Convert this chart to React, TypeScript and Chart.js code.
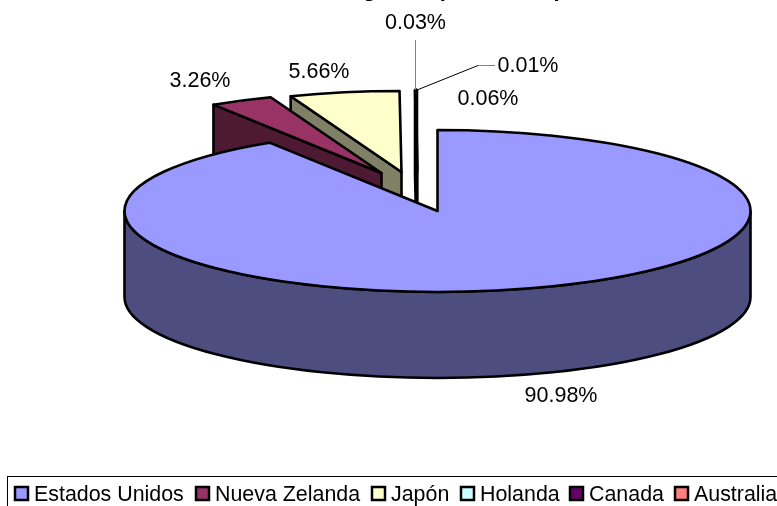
import React, { useEffect, useRef } from "react";
import { Chart, registerables } from "chart.js";

Chart.register(...registerables);

const TITLE = "Origen de productos por";
const categories = ["Estados Unidos", "Nueva Zelanda", "Japón", "Holanda", "Canada", "Australia"];
const shares = [90.98, 3.26, 5.66, 0.06, 0.01, 0.03];
const shareLabels = ["90.98%", "3.26%", "5.66%", "0.06%", "0.01%", "0.03%"];

const topColors = ["#9999FF", "#993366", "#FFFFCC", "#CCFFFF", "#660066", "#FF8080"];
const wallColors = ["#4D4D80", "#4D1933", "#808066", "#668080", "#330033", "#804040"];
const sliceShift = [[0, 0], [-56, -38], [-36, -39], [-20.5, -40], [-20.5, -40], [-20.5, -40]];
const labelPos = [[561, 396], [200, 81], [319, 72], [488, 99], [528, 66], [415.5, 23]];
const legendX = [15, 196, 372, 461, 570, 675];

const CX = 437.5, CY = 211, RX = 313, RY = 81, DEPTH = 86;
const FONT = '21.5px "Liberation Sans", Arial, sans-serif';
const LEGEND_FONT = '21.4px "Liberation Sans", Arial, sans-serif';

const pie3d = {
  id: "pie3d",
  beforeDatasetsDraw(chart: any) {
    const ctx = chart.ctx as CanvasRenderingContext2D;
    const arcs = chart.getDatasetMeta(0).data;
    ctx.save();
    ctx.lineWidth = 2.6;
    ctx.lineJoin = "round";
    ctx.strokeStyle = "#000";
    for (let i = arcs.length - 1; i >= 0; i--) {
      const { startAngle: a0, endAngle: a1 } = arcs[i].getProps(["startAngle", "endAngle"], true);
      const cx = CX + sliceShift[i][0];
      const cy = CY + sliceShift[i][1];
      const px = (a: number) => cx + RX * Math.cos(a);
      const py = (a: number) => cy + RY * Math.sin(a);
      ctx.fillStyle = wallColors[i];
      const face = (a: number) => {
        ctx.beginPath();
        ctx.moveTo(cx, cy);
        ctx.lineTo(px(a), py(a));
        ctx.lineTo(px(a), py(a) + DEPTH);
        ctx.lineTo(cx, cy + DEPTH);
        ctx.closePath();
        ctx.fill();
        ctx.stroke();
      };
      if (Math.cos(a0) < 0) face(a0);
      if (Math.cos(a1) > 0) face(a1);
      // outer wall: only the part of the rim that faces the viewer
      for (const k of [0, 1]) {
        const lo = Math.max(a0, k * 2 * Math.PI);
        const hi = Math.min(a1, k * 2 * Math.PI + Math.PI);
        if (hi > lo) {
          ctx.beginPath();
          ctx.ellipse(cx, cy, RX, RY, 0, lo, hi);
          ctx.ellipse(cx, cy + DEPTH, RX, RY, 0, hi, lo, true);
          ctx.closePath();
          ctx.fill();
          ctx.stroke();
        }
      }
      ctx.fillStyle = topColors[i];
      ctx.beginPath();
      ctx.moveTo(cx, cy);
      ctx.ellipse(cx, cy, RX, RY, 0, a0, a1);
      ctx.closePath();
      ctx.fill();
      ctx.stroke();
    }
    ctx.restore();
  },
  beforeDatasetDraw() {
    return false;
  },
  afterDraw(chart: any) {
    const ctx = chart.ctx as CanvasRenderingContext2D;
    ctx.save();
    // leader lines
    ctx.lineWidth = 1;
    ctx.strokeStyle = "#808080";
    ctx.beginPath();
    ctx.moveTo(415.5, 40);
    ctx.lineTo(415.5, 90);
    ctx.stroke();
    ctx.strokeStyle = "#000";
    ctx.beginPath();
    ctx.moveTo(417, 90);
    ctx.lineTo(478, 65.5);
    ctx.stroke();
    ctx.strokeStyle = "#808080";
    ctx.beginPath();
    ctx.moveTo(478, 65.5);
    ctx.lineTo(495, 65.5);
    ctx.stroke();
    // data labels
    ctx.fillStyle = "#000";
    ctx.font = FONT;
    ctx.textAlign = "center";
    ctx.textBaseline = "middle";
    shareLabels.forEach((t, i) => ctx.fillText(t, labelPos[i][0], labelPos[i][1]));
    // legend
    ctx.strokeStyle = "#000";
    ctx.lineWidth = 1;
    ctx.strokeRect(7.5, 476.5, 790, 40);
    ctx.textAlign = "left";
    ctx.textBaseline = "alphabetic";
    ctx.font = LEGEND_FONT;
    const labels: string[] = chart.data.labels;
    labels.forEach((t, i) => {
      const x = legendX[i];
      ctx.fillStyle = topColors[i];
      ctx.lineWidth = 2.5;
      ctx.fillRect(x, 487, 13, 13);
      ctx.strokeRect(x, 487, 13, 13);
      ctx.fillStyle = "#000";
      ctx.fillText(t, x + 19, 501);
    });
    ctx.restore();
  },
};

export default function App() {
  const ref = useRef<HTMLCanvasElement>(null);
  useEffect(() => {
    const chart = new Chart(ref.current!, {
      type: "pie",
      data: {
        labels: categories,
        datasets: [{ data: shares, backgroundColor: topColors, borderColor: "#000", borderWidth: 2 }],
      },
      options: {
        responsive: false,
        animation: false,
        layout: { padding: { left: 143 } },
        plugins: {
          legend: { display: false },
          tooltip: { enabled: false },
          title: {
            display: true,
            text: TITLE,
            color: "#000",
            font: { family: '"Liberation Sans", Arial, sans-serif', size: 22, weight: "bold" },
            padding: { top: -23, bottom: 0 },
          },
        },
      },
      plugins: [pie3d],
    } as any);
    return () => chart.destroy();
  }, []);
  return (
    <div style={{ position: "absolute", left: 0, top: 0, width: 777, height: 506, overflow: "hidden" }}>
      <canvas ref={ref} width={777} height={506} style={{ display: "block" }} />
    </div>
  );
}
